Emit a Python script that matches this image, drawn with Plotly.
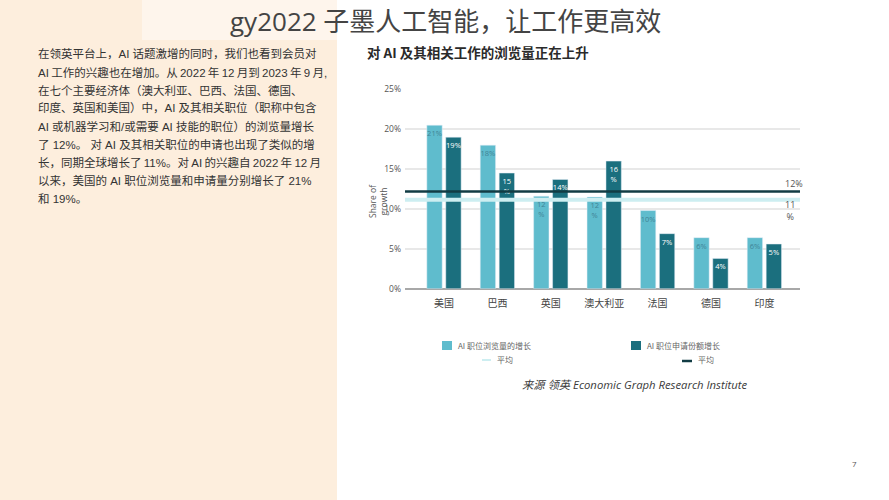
import plotly.graph_objects as go

W, H = 889, 500
CJK = "Noto Sans CJK SC"
LATIN_CJK = "Liberation Sans, Noto Sans CJK SC"

categories = ["美国", "巴西", "英国", "澳大利亚", "法国", "德国", "印度"]
views_growth = [20.5, 18.0, 11.6, 11.5, 9.8, 6.4, 6.4]
apply_growth = [19.0, 14.5, 13.7, 16.0, 6.9, 3.8, 5.6]
views_labels = ["21%", "18%", "12<br>%", "12<br>%", "10%", "6%", "6%"]
apply_labels = ["19%", "15<br>%", "14%", "16<br>%", "7%", "4%", "5%"]
views_avg = 11.15
apply_avg = 12.2
views_avg_label = "11<br>%"
apply_avg_label = "12%"
y_ticks = [0, 5, 10, 15, 20, 25]
y_tick_labels = ["0%", "5%", "10%", "15%", "20%", "25%"]

title_text = "gy2022 子墨人工智能，让工作更高效"
chart_title = "<b>对 AI 及其相关工作的浏览量正在上升</b>"
source_text = "来源 领英 Economic Graph Research Institute"
y_title = "Share of<br>growth"
legend_views = "AI 职位浏览量的增长"
legend_apply = "AI 职位申请份额增长"
legend_avg = "平均"
body_lines = [
    "在领英平台上，AI 话题激增的同时，我们也看到会员对",
    "AI\u2009工作的兴趣也在增加。从\u20092022\u2009年\u200912\u2009月到\u20092023\u2009年\u20099\u2009月,",
    "在七个主要经济体（澳大利亚、巴西、法国、德国、",
    "印度、英国和美国）中，AI 及其相关职位（职称中包含",
    "AI 或机器学习和/或需要 AI 技能的职位）的浏览量增长",
    "了 12%。 对 AI 及其相关职位的申请也出现了类似的增",
    "长，同期全球增长了\u200911%。对\u2009AI\u2009的兴趣自\u20092022\u2009年\u200912\u2009月",
    "以来，美国的 AI 职位浏览量和申请量分别增长了 21%",
    "和 19%。",
]
body_y = [54, 72, 90.5, 108, 126, 144, 162, 180, 199]

LIGHT, DARK = "#5fbccd", "#1b6f7e"
PALE, NEAR_BLACK = "#cdeef1", "#123c44"


def px(x):
    return x / W


def py(y):
    return 1 - y / H


def note(text, x, y, size, color="#333", xanchor="left", family=CJK, **kw):
    shift = {"left": -2, "center": 0, "right": 2}[xanchor]
    return dict(text=text, x=px(x + shift), y=py(y), xref="paper", yref="paper",
                xanchor=xanchor, yanchor="middle", showarrow=False,
                font=dict(size=size, color=color, family=family, **kw.pop("font", {})), **kw)


def swatch(x0, y0, x1, y1, color):
    return dict(type="rect", xref="paper", yref="paper", x0=px(x0), x1=px(x1), y0=py(y1), y1=py(y0),
                fillcolor=color, line_width=0)


def key_line(x0, x1, y, color, width):
    return dict(type="line", xref="paper", yref="paper", x0=px(x0), x1=px(x1), y0=py(y), y1=py(y),
                line=dict(color=color, width=width))


fig = go.Figure()
fig.add_bar(x=categories, y=views_growth, name=legend_views, marker_color=LIGHT,
            text=views_labels, textposition="inside", insidetextanchor="end", textangle=0,
            constraintext="none", showlegend=False,
            textfont=dict(size=7.5, color="#3f8496", family="Open Sans"))
fig.add_bar(x=categories, y=apply_growth, name=legend_apply, marker_color=DARK,
            text=apply_labels, textposition="inside", insidetextanchor="end", textangle=0,
            constraintext="none", showlegend=False,
            textfont=dict(size=7.5, color="#ffffff", family="Open Sans"))

shapes = [
    dict(type="rect", xref="paper", yref="paper", x0=0, x1=px(337), y0=0, y1=1,
         fillcolor="#fdeedd", line_width=0, layer="below"),
    dict(type="rect", xref="paper", yref="paper", x0=px(142), x1=px(337), y0=py(40), y1=1,
         fillcolor="#fef5ec", line_width=0, layer="below"),
    dict(type="line", xref="paper", yref="y", x0=px(405), x1=px(800), y0=views_avg, y1=views_avg,
         line=dict(color=PALE, width=4)),
    dict(type="line", xref="paper", yref="y", x0=px(405), x1=px(800), y0=apply_avg, y1=apply_avg,
         line=dict(color=NEAR_BLACK, width=2.5)),
    swatch(442, 341, 452, 350, LIGHT),
    swatch(631, 341, 641, 350, DARK),
    key_line(482, 491, 360, PALE, 2),
    key_line(682, 692, 361, NEAR_BLACK, 2.5),
]

annotations = [
    note(title_text, 445, 21, 26, "#444444", "center", family="Open Sans, " + CJK),
    note(chart_title, 367, 52, 13.5, "#2a2a2a"),
    note(source_text, 522, 384, 11.3, "#3a3a3a", family="Open Sans, " + CJK, font=dict(style="italic")),
    note("7", 854, 463, 8, "#555555", "center", family="Open Sans"),
    note(y_title, 378, 201, 8.5, "#555555", "center", family="Open Sans", textangle=-90),
    note(apply_avg_label, 785, 183, 9, "#555555", family="Open Sans"),
    note(views_avg_label, 785, 210.5, 9, "#555555", family="Open Sans"),
    note(legend_views, 458, 345, 8, "#666666"),
    note(legend_apply, 647, 345, 8, "#666666"),
    note(legend_avg, 497, 359, 8, "#666666"),
    note(legend_avg, 698, 359, 8, "#666666"),
]
annotations += [note(t, 38, y, 11.5, "#333333", family=LATIN_CJK) for t, y in zip(body_lines, body_y)]

fig.update_layout(
    width=W, height=H, margin=dict(l=0, r=0, t=0, b=0, pad=0, autoexpand=False),
    paper_bgcolor="white", plot_bgcolor="white", showlegend=False,
    barmode="group", bargap=0.29, bargroupgap=0.19,
    shapes=shapes, annotations=annotations,
    xaxis=dict(domain=[px(405), px(800)], range=[-0.73, 6.667], type="category", automargin=False,
               tickfont=dict(size=10, color="#444444", family=CJK), ticklabelstandoff=7,
               ticks="", showgrid=False, showline=False, zeroline=False),
    yaxis=dict(domain=[py(288.7), py(89.3)], range=[0, 25], tickvals=y_ticks, ticktext=y_tick_labels,
               automargin=False,
               tickfont=dict(size=8.5, color="#555555", family="Open Sans"), ticklabelstandoff=3,
               gridcolor="#e8e8e8", gridwidth=1.5, zeroline=True, zerolinecolor="#a8a8a8",
               zerolinewidth=1.5, showline=False, ticks=""),
)

fig.write_html("out.html", config={"displayModeBar": False},
               post_script="document.body.style.margin='0';document.body.style.overflow='hidden';")
